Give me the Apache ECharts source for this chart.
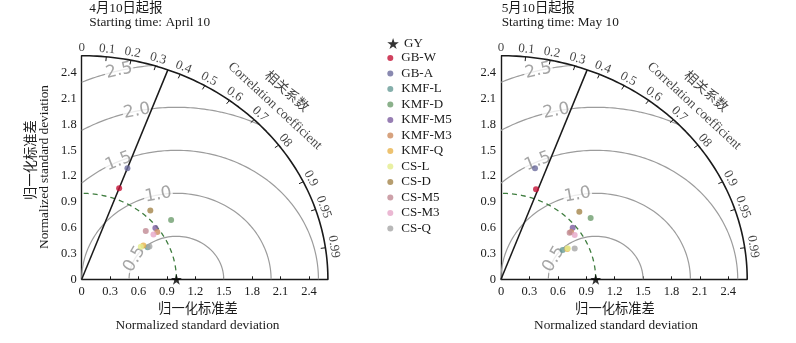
<!DOCTYPE html>
<html>
<head>
<meta charset="utf-8">
<script src="https://cdn.jsdelivr.net/npm/echarts@6/dist/echarts.min.js"></script>
<style>
  html, body { margin: 0; padding: 0; background: #fff; }
  #chart { width: 796px; height: 343px; }
</style>
</head>
<body>
<div id="chart"></div>
<script>
// ---- Taylor diagram data: normalized standard deviation and correlation ----
const models = ['GB-W', 'GB-A', 'KMF-L', 'KMF-D', 'KMF-M5', 'KMF-M3', 'KMF-Q', 'CS-L', 'CS-D', 'CS-M5', 'CS-M3', 'CS-Q'];
const modelColors = ['#c41236', '#6c6c9c', '#679b96', '#6e9e6e', '#7d5ea0', '#cd8b5e', '#e9b34c', '#e4ec8c', '#a4844a', '#c08a94', '#e6a6c8', '#a6a6a6'];

// forecasts started on April 10
const aprilStd  = [1.13, 1.38, 0.79, 1.17, 0.98, 0.97, 0.76, 0.73, 1.08, 0.88, 0.92, 0.81];
const aprilCorr = [0.35, 0.35, 0.881, 0.807, 0.794, 0.823, 0.857, 0.855, 0.671, 0.769, 0.824, 0.883];

// forecasts started on May 10
const mayStd  = [1.11, 1.34, 0.735, 1.185, 0.966, 0.922, 0.784, 0.792, 1.141, 0.904, 0.933, 0.857];
const mayCorr = [0.333, 0.268, 0.886, 0.799, 0.784, 0.803, 0.893, 0.89, 0.725, 0.802, 0.834, 0.908];

// observation reference
const refName = 'GY';
const refStd = 1.0;
const refCorr = 1.0;

// axes
const stdMax = 2.6;
const stdStep = 0.3;
const corrTicks = [0.1, 0.2, 0.3, 0.4, 0.5, 0.6, 0.7, 0.8, 0.9, 0.95, 0.99];
const corrLabelValues = [0, 0.1, 0.2, 0.3, 0.4, 0.5, 0.6, 0.7, 0.8, 0.9, 0.95, 0.99];
const corrLabelTexts = ['0', '0.1', '0.2', '0.3', '0.4', '0.5', '0.6', '0.7', '08', '0.9', '0.95', '0.99'];
const rmsLevels = [0.5, 1.0, 1.5, 2.0, 2.5];
const rmsLabelTexts = ['0.5', '1.0', '1.5', '2.0', '2.5'];
const sigCorr = 0.35;

// ---- layout ----
const GRID_W = 246.2, GRID_H = 223.6, GRID_TOP = 55.7;
const GRID_LEFT = [81.7, 501];
const SX = GRID_W / stdMax, SY = GRID_H / stdMax;
const DEG = Math.PI / 180;
const SERIF = "'Liberation Serif', 'Noto Sans CJK SC', serif";
const STAR = 'path://M0,-10 L2.245,-3.09 L9.51,-3.09 L3.633,1.18 L5.88,8.09 L0,3.82 L-5.88,8.09 L-3.633,1.18 L-9.51,-3.09 L-2.245,-3.09 Z';
// where each RMS label sits on its contour (angle about the reference point)
const rmsLabelAngles = [152, 101, 114, 102, 104];

function arc(cx, cy, r, a0, a1) {
  const pts = [];
  const n = 200;
  for (let i = 0; i <= n; i++) {
    const a = a0 + (a1 - a0) * i / n;
    pts.push([cx + r * Math.cos(a), cy + r * Math.sin(a)]);
  }
  return pts;
}
function polar(r, c) {
  return [r * c, r * Math.sqrt(Math.max(0, 1 - c * c))];
}
// text rotation (deg) following the tangent of a circle at angle a, on screen
function tangentRot(a) {
  return Math.atan2(-Math.cos(a) * SY, Math.sin(a) * SX) / DEG;
}

function panelSeries(gi, std, corr) {
  const ax = { xAxisIndex: gi, yAxisIndex: gi };
  const common = { silent: true, animation: false, clip: false };
  const out = [];

  // centred RMS difference contours
  rmsLevels.forEach(k => {
    const xo = (stdMax * stdMax - k * k + refStd * refStd) / (2 * refStd);
    const a0 = (refStd + k > stdMax) ? Math.acos((xo - refStd) / k) : 0;
    const a1 = (k <= refStd) ? Math.PI : Math.acos(-refStd / k);
    out.push(Object.assign({
      type: 'line', data: arc(refStd, 0, k, a0, a1), symbol: 'none',
      lineStyle: { color: '#9c9c9c', width: 1.2 }, z: 2
    }, ax, common));
  });

  // reference standard deviation
  out.push(Object.assign({
    type: 'line', data: arc(0, 0, refStd, 0, Math.PI / 2), symbol: 'none',
    lineStyle: { color: '#3f7d3f', width: 1.3, type: [5, 4] }, z: 2
  }, ax, common));

  // RMS contour labels
  out.push(Object.assign({
    type: 'scatter', symbolSize: 1, itemStyle: { color: 'rgba(0,0,0,0)' }, z: 3,
    data: rmsLevels.map((k, i) => {
      const a = rmsLabelAngles[i] * DEG;
      return {
        name: rmsLabelTexts[i],
        value: [refStd + k * Math.cos(a), k * Math.sin(a)],
        label: { rotate: tangentRot(a) }
      };
    }),
    label: {
      show: true, position: 'inside', formatter: '{b}',
      fontFamily: 'DejaVu Sans', fontSize: 17, color: '#8e8e8e',
      backgroundColor: '#fff', padding: [0, 1]
    }
  }, ax, common));

  // outer correlation arc
  out.push(Object.assign({
    type: 'line', data: arc(0, 0, stdMax, 0, Math.PI / 2), symbol: 'none',
    lineStyle: { color: '#1a1a1a', width: 1.6 }, z: 4
  }, ax, common));

  // significance line
  out.push(Object.assign({
    type: 'line', data: [[0, 0], polar(stdMax, sigCorr)], symbol: 'none',
    lineStyle: { color: '#1a1a1a', width: 1.5 }, z: 4
  }, ax, common));

  // correlation ticks
  out.push(Object.assign({
    type: 'custom', z: 4,
    data: corrTicks.map(c => [c, 0]),
    renderItem: (params, api) => {
      const c = api.value(0);
      const p1 = api.coord(polar(stdMax, c));
      const p2 = api.coord(polar(stdMax - 0.05, c));
      return {
        type: 'line',
        shape: { x1: p1[0], y1: p1[1], x2: p2[0], y2: p2[1] },
        style: { stroke: '#1a1a1a', lineWidth: 1 }
      };
    }
  }, ax, common));

  // correlation labels
  out.push(Object.assign({
    type: 'scatter', symbolSize: 1, itemStyle: { color: 'rgba(0,0,0,0)' }, z: 4,
    data: corrLabelValues.map((c, i) => ({
      name: corrLabelTexts[i],
      value: polar(2.69, c),
      label: { rotate: tangentRot(Math.acos(c)) }
    })),
    label: {
      show: true, position: 'inside', formatter: '{b}',
      fontFamily: SERIF, fontSize: 13, color: '#111'
    }
  }, ax, common));

  // correlation axis title
  out.push(Object.assign({
    type: 'scatter', symbolSize: 1, itemStyle: { color: 'rgba(0,0,0,0)' }, z: 4,
    data: [
      { name: 'Correlation coefficient', value: [2.04, 2.015], label: { rotate: tangentRot(44.6 * DEG) } },
      { name: '相关系数', value: [2.16, 2.18], label: { rotate: tangentRot(45.3 * DEG) } }
    ],
    label: {
      show: true, position: 'inside', formatter: '{b}',
      fontFamily: SERIF, fontSize: 13.5, color: '#111'
    }
  }, ax, common));

  // models
  models.forEach((m, i) => {
    out.push(Object.assign({
      type: 'scatter', name: m, symbol: 'circle', symbolSize: 6,
      itemStyle: { color: modelColors[i] }, z: 5,
      data: [polar(std[i], corr[i])]
    }, ax, common));
  });

  // observation
  out.push(Object.assign({
    type: 'scatter', name: refName, symbol: STAR, symbolSize: 11,
    itemStyle: { color: '#000' }, z: 6,
    data: [polar(refStd, refCorr)]
  }, ax, common));

  return out;
}

function axisPair(gi) {
  const fmt = v => (v === 0 ? '0' : v.toFixed(1));
  const base = {
    type: 'value', gridIndex: gi, min: 0, max: stdMax, interval: stdStep,
    splitLine: { show: false },
    axisLine: { show: true, lineStyle: { color: '#1a1a1a', width: 1.4 } },
    axisLabel: {
      formatter: fmt, showMaxLabel: false,
      fontFamily: SERIF, fontSize: 12.5, color: '#1a1a1a'
    }
  };
  return {
    x: Object.assign({}, base, {
      axisTick: { show: true, inside: true, length: 3, lineStyle: { color: '#1a1a1a' } },
      axisLabel: Object.assign({}, base.axisLabel, { margin: 6 })
    }),
    y: Object.assign({}, base, {
      axisTick: { show: false },
      axisLabel: Object.assign({}, base.axisLabel, { margin: 5 })
    })
  };
}

function txt(x, y, text, opts) {
  opts = opts || {};
  return {
    type: 'text', x: x, y: y, rotation: opts.rot || 0, silent: true,
    style: {
      text: text, fill: '#1a1a1a',
      font: (opts.size || 13.3) + 'px ' + SERIF,
      textAlign: opts.align || 'center', textVerticalAlign: 'middle'
    }
  };
}

const chart = echarts.init(document.getElementById('chart'), null, { renderer: 'canvas' });
const a0 = axisPair(0), a1 = axisPair(1);
const legendText = { fontFamily: SERIF, fontSize: 13, color: '#1a1a1a', lineHeight: 14 };

chart.setOption({
  animation: false,
  backgroundColor: '#fff',
  grid: GRID_LEFT.map(l => ({ left: l, top: GRID_TOP, width: GRID_W, height: GRID_H })),
  xAxis: [a0.x, a1.x],
  yAxis: [a0.y, a1.y],
  legend: [
    {
      data: [refName], orient: 'vertical', left: 382.3, top: 31.6,
      itemWidth: 12, itemHeight: 11, icon: STAR, itemGap: 1.45,
      textStyle: legendText, selectedMode: false
    },
    {
      data: models, orient: 'vertical', left: 382.3, top: 46.0,
      itemWidth: 12, itemHeight: 6, icon: 'circle', itemGap: 1.5,
      textStyle: legendText, selectedMode: false
    }
  ],
  graphic: [
    txt(89.3, 8.3, '4月10日起报', { align: 'left' }),
    txt(89.3, 22.7, 'Starting time: April 10', { align: 'left' }),
    txt(501.7, 8.3, '5月10日起报', { align: 'left' }),
    txt(501.7, 22.7, 'Starting time: May 10', { align: 'left' }),
    txt(198, 310, '归一化标准差'),
    txt(197.5, 326, 'Normalized standard deviation'),
    txt(615, 310, '归一化标准差'),
    txt(616, 326, 'Normalized standard deviation'),
    txt(31.7, 160, '归一化标准差', { rot: Math.PI / 2 }),
    txt(45, 167, 'Normalized standard deviation', { rot: Math.PI / 2 })
  ],
  series: panelSeries(0, aprilStd, aprilCorr).concat(panelSeries(1, mayStd, mayCorr))
});
</script>
</body>
</html>
